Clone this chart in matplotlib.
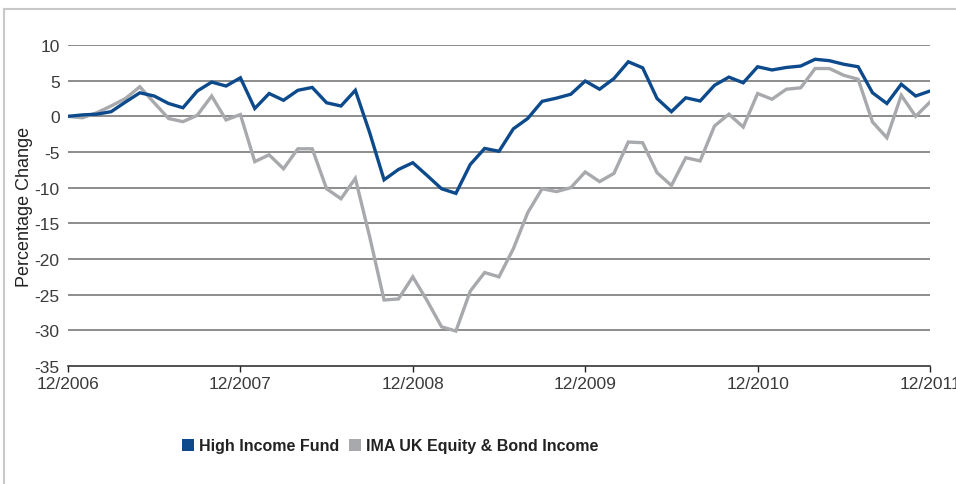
import matplotlib
matplotlib.use("Agg")
import matplotlib.pyplot as plt
from matplotlib.patches import Patch
from matplotlib.lines import Line2D

plt.rcParams['font.family'] = ['Liberation Sans', 'DejaVu Sans']

# Monthly observations, 12/2006 .. 12/2011 (61 points)
months = list(range(61))
tick_labels = ["12/2006", "12/2007", "12/2008", "12/2009", "12/2010", "12/2011"]
tick_months = [0, 12, 24, 36, 48, 60]

high_income_fund = [
    0.0, 0.2, 0.3, 0.65, 2.0, 3.3, 2.85, 1.8, 1.2, 3.55,
    4.8, 4.25, 5.4, 1.1, 3.2, 2.25, 3.65, 4.05, 1.9, 1.45,
    3.65, -2.3, -8.9, -7.45, -6.5, -8.3, -10.15, -10.8, -6.75, -4.5,
    -4.9, -1.75, -0.3, 2.1, 2.55, 3.1, 4.95, 3.8, 5.3, 7.65,
    6.8, 2.5, 0.65, 2.6, 2.15, 4.35, 5.5, 4.7, 6.95, 6.5,
    6.85, 7.05, 8.0, 7.8, 7.3, 6.95, 3.3, 1.8, 4.5, 2.85,
    3.55,
]
ima_uk_equity_bond = [
    0.0, -0.2, 0.5, 1.45, 2.5, 4.15, 1.9, -0.3, -0.75, 0.15,
    2.85, -0.5, 0.25, -6.35, -5.4, -7.35, -4.55, -4.55, -10.15, -11.55,
    -8.7, -16.9, -25.75, -25.6, -22.5, -25.85, -29.5, -30.1, -24.5, -21.9,
    -22.5, -18.55, -13.5, -10.15, -10.55, -10.0, -7.8, -9.15, -8.0, -3.6,
    -3.7, -7.9, -9.7, -5.8, -6.25, -1.35, 0.3, -1.5, 3.2, 2.4,
    3.8, 4.0, 6.7, 6.7, 5.75, 5.2, -0.8, -3.0, 2.95, 0.0,
    2.0,
]
series_names = ["High Income Fund", "IMA UK Equity & Bond Income"]
yticks = [10, 5, 0, -5, -10, -15, -20, -25, -30, -35]

BLUE = "#0d4a8c"
GREY = "#a7a9ac"
TEXT = "#3a3a3a"

fig = plt.figure(figsize=(9.56, 4.85), dpi=100)
fig.patch.set_facecolor("white")
ax = fig.add_axes([68 / 956, 1 - 367 / 485, (930 - 68) / 956, (367 - 46) / 485])

for y in yticks[:-1]:
    ax.axhline(y, color="#6e6e6e", lw=1.1, zorder=1)

ax.plot(months, ima_uk_equity_bond, color=GREY, lw=2.4, zorder=3, solid_joinstyle="miter")
ax.plot(months, high_income_fund, color=BLUE, lw=2.4, zorder=4, solid_joinstyle="miter")

ax.set_xlim(0, 60)
ax.set_ylim(-35, 10)
for s in ["top", "right", "left"]:
    ax.spines[s].set_visible(False)
ax.spines["bottom"].set_color("#222222")
ax.spines["bottom"].set_linewidth(1.1)
ax.spines["bottom"].set_zorder(5)

ax.set_yticks(yticks)
ax.set_yticklabels([str(v) for v in yticks])
ax.tick_params(axis="y", length=0, pad=6, labelsize=12.5, labelcolor=TEXT)
ax.set_xticks(tick_months)
ax.set_xticklabels(tick_labels)
ax.tick_params(axis="x", length=4, width=1, color="#222222", direction="out",
               pad=3, labelsize=12.5, labelcolor=TEXT)
for lbl in ax.get_xticklabels():
    lbl.set_clip_on(False)

ax.set_ylabel("Percentage Change", fontsize=13, color="#222222")
ax.yaxis.set_label_coords(-0.041, 0.5)

handles = [Patch(facecolor=BLUE, edgecolor="none"), Patch(facecolor=GREY, edgecolor="none")]
leg = fig.legend(handles, series_names, loc="center left", bbox_to_anchor=(168 / 956, 1 - 447 / 485),
                 ncol=2, frameon=False, handlelength=0.75, handleheight=0.75,
                 handletextpad=0.3, columnspacing=0.6,
                 prop={"weight": "bold", "size": 11.5})
for t in leg.get_texts():
    t.set_color("#222222")

# light frame at top and left of the image
fig.add_artist(Line2D([4 / 956, 1.0], [1 - 10 / 485, 1 - 10 / 485], color="#c8c8c8", lw=1.5,
                      transform=fig.transFigure))
fig.add_artist(Line2D([4 / 956, 4 / 956], [0.0, 1 - 10 / 485], color="#c8c8c8", lw=1.5,
                      transform=fig.transFigure))

fig.savefig("out.png", dpi=100, facecolor="white")
